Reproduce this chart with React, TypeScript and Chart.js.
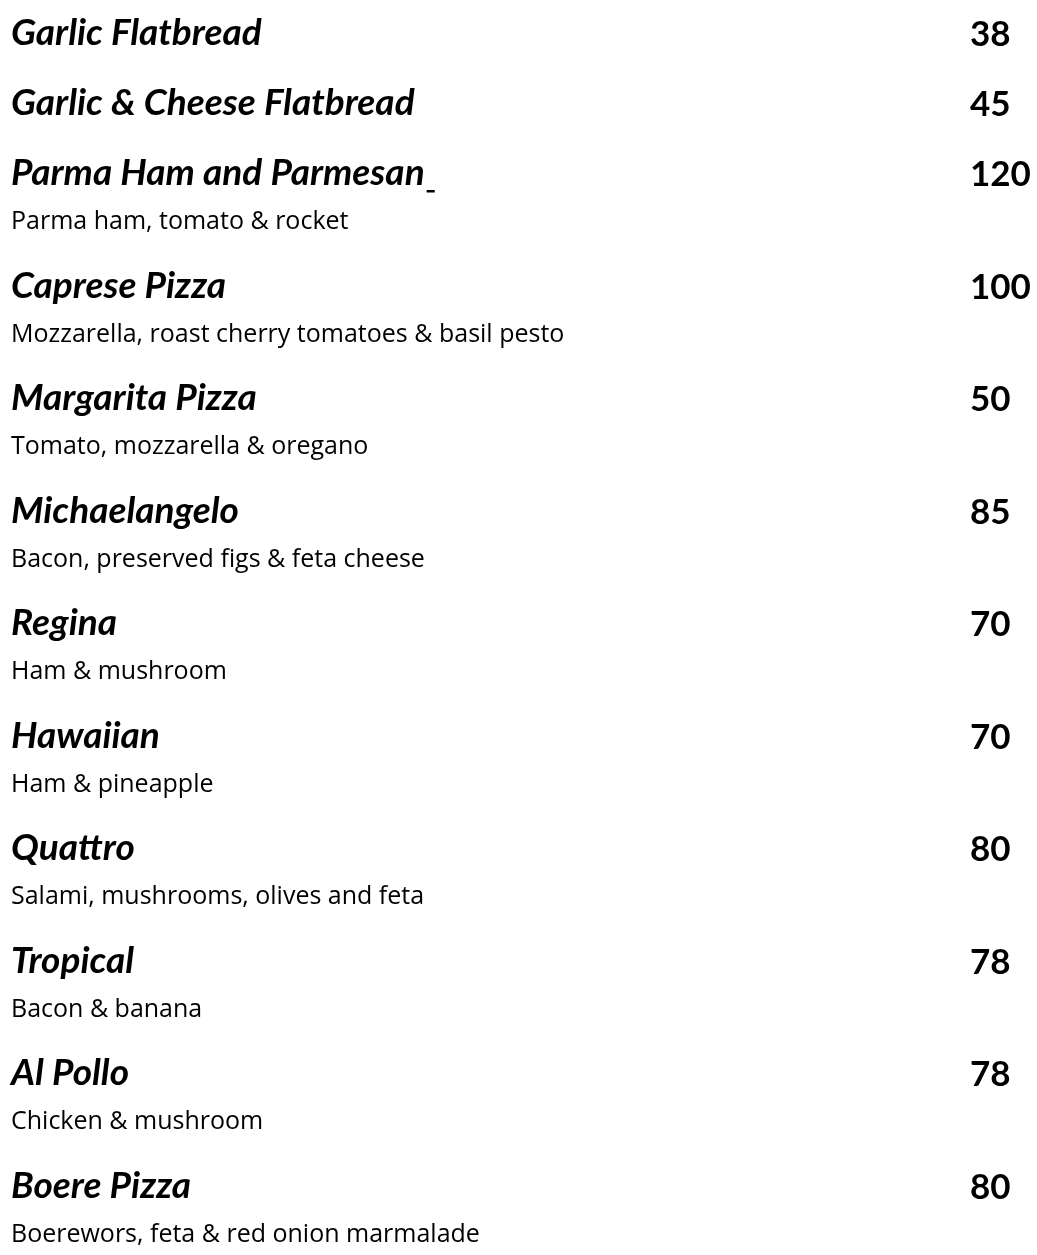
import React, { useEffect, useRef } from "react";
import { Chart, registerables } from "chart.js";

Chart.register(...registerables);

// ---- data ----
const itemNames = [
  "Garlic Flatbread",
  "Garlic & Cheese Flatbread",
  "Parma Ham and Parmesan ",
  "Caprese Pizza",
  "Margarita Pizza",
  "Michaelangelo",
  "Regina",
  "Hawaiian",
  "Quattro",
  "Tropical",
  "Al Pollo",
  "Boere Pizza",
];

const itemDescriptions = [
  "",
  "",
  "Parma ham, tomato & rocket",
  "Mozzarella, roast cherry tomatoes & basil pesto",
  "Tomato, mozzarella & oregano",
  "Bacon, preserved figs & feta cheese",
  "Ham & mushroom",
  "Ham & pineapple",
  "Salami, mushrooms, olives and feta",
  "Bacon & banana",
  "Chicken & mushroom",
  "Boerewors, feta & red onion marmalade",
];

const itemPrices = [38, 45, 120, 100, 50, 85, 70, 70, 80, 78, 78, 80];

// ---- layout (page units = pixels of the scale range) ----
const PAGE_W = 1037;
const PAGE_H = 1255;
const NAME_X = 11;
const PRICE_X = 970;
const FIRST_BASELINE = 45;
const PLAIN_GAP = 70;
const DESC_GAP = 112.5;
const DESC_OFFSET = 44;

const NAME_FONT = "italic bold 37px Lato";
const DESC_FONT = "25px 'Open Sans'";
const PRICE_FONT = "bold 35px Lato";

function computeRows(): number[] {
  const rows: number[] = [];
  let y = FIRST_BASELINE;
  itemNames.forEach((_, i) => {
    rows.push(y);
    y += itemDescriptions[i] ? DESC_GAP : PLAIN_GAP;
  });
  return rows;
}

const menuTextPlugin = {
  id: "menuText",
  afterDatasetsDraw(chart: any) {
    const ctx = chart.ctx as CanvasRenderingContext2D;
    ctx.save();
    ctx.fillStyle = "#000000";
    ctx.textBaseline = "alphabetic";
    ctx.textAlign = "left";
    chart.data.datasets.forEach((ds: any, di: number) => {
      const meta = chart.getDatasetMeta(di);
      ctx.font = ds.textFont;
      meta.data.forEach((el: any, i: number) => {
        const label: string = ds.labels[i];
        if (!label) return;
        ctx.fillText(label, el.x, el.y);
        if (ds.underlineTrailing && /\s+$/.test(label)) {
          const wTrim = ctx.measureText(label.replace(/\s+$/, "")).width;
          const wFull = ctx.measureText(label).width;
          ctx.fillRect(el.x + wTrim + 2, el.y + 5, wFull - wTrim, 2.5);
        }
      });
    });
    ctx.restore();
  },
};

export default function App() {
  const canvasRef = useRef<HTMLCanvasElement | null>(null);

  useEffect(() => {
    if (!canvasRef.current) return;
    const rows = computeRows();
    const descIdx = itemDescriptions
      .map((d, i) => (d ? i : -1))
      .filter((i) => i >= 0);

    const chart = new Chart(canvasRef.current, {
      type: "scatter",
      data: {
        datasets: [
          {
            label: "names",
            data: rows.map((y) => ({ x: NAME_X, y })),
            labels: itemNames,
            textFont: NAME_FONT,
            underlineTrailing: true,
            pointRadius: 0,
            pointHoverRadius: 0,
          } as any,
          {
            label: "descriptions",
            data: descIdx.map((i) => ({ x: NAME_X, y: rows[i] + DESC_OFFSET })),
            labels: descIdx.map((i) => itemDescriptions[i]),
            textFont: DESC_FONT,
            pointRadius: 0,
            pointHoverRadius: 0,
          } as any,
          {
            label: "prices",
            data: rows.map((y) => ({ x: PRICE_X, y: y + 1 })),
            labels: itemPrices.map((p) => String(p)),
            textFont: PRICE_FONT,
            pointRadius: 0,
            pointHoverRadius: 0,
          } as any,
        ],
      },
      options: {
        animation: false,
        responsive: false,
        maintainAspectRatio: false,
        layout: { padding: 0 },
        events: [],
        plugins: {
          legend: { display: false },
          tooltip: { enabled: false },
        },
        scales: {
          x: { type: "linear", min: 0, max: PAGE_W, display: false },
          y: { type: "linear", min: 0, max: PAGE_H, reverse: true, display: false },
        },
      },
      plugins: [menuTextPlugin],
    });
    return () => chart.destroy();
  }, []);

  return (
    <div style={{ position: "absolute", left: 0, top: 0, width: PAGE_W, height: PAGE_H, background: "#ffffff" }}>
      <canvas ref={canvasRef} width={PAGE_W} height={PAGE_H} style={{ display: "block" }} />
    </div>
  );
}
